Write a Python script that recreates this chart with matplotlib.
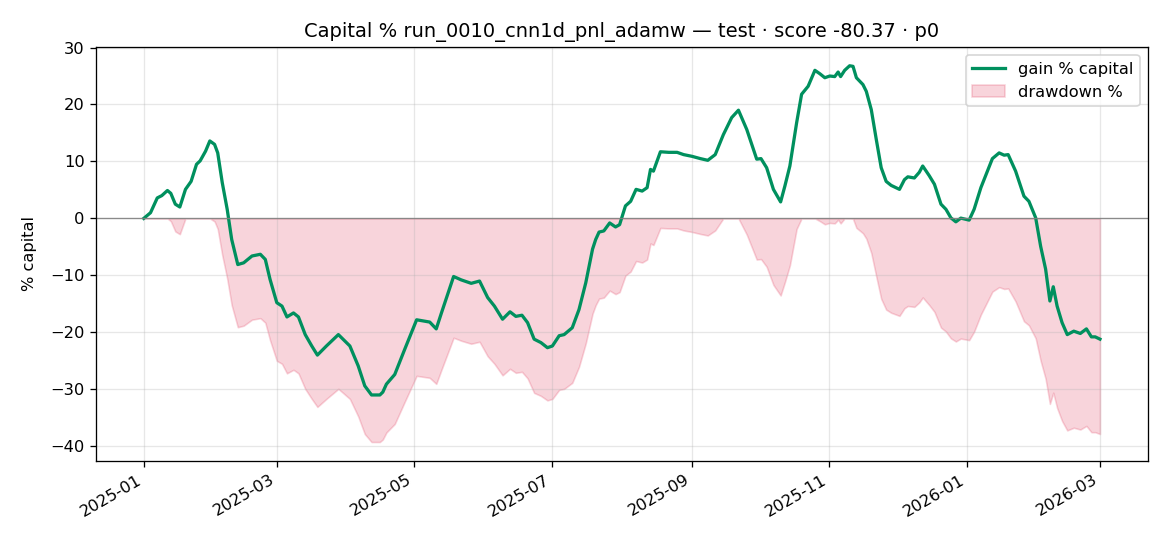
import numpy as np
import pandas as pd
import matplotlib
matplotlib.use("Agg")
import matplotlib.pyplot as plt
import matplotlib.dates as mdates

start_date = "2025-01-01"
days_since_start = [
    0, 3, 6, 8, 10.5, 12, 14, 16, 18.5, 21, 23.4, 25, 27.4, 29.3, 31.4, 32.8, 34.8, 37, 39, 41.7,
    44.3, 48, 51.7, 53.9, 56, 59, 61.3, 63.5, 66.4, 68.6, 71.6, 74.5, 77, 81, 86.3, 91.4, 95.1, 98,
    101, 104.7, 106, 107.6, 111.3, 115.7, 121, 126.8, 129.7, 132, 137.4, 140.8, 145.2, 148.9, 152.5,
    155.5, 159.1, 162.4, 165, 167.7, 170.2, 173.1, 176.1, 179, 181.2, 184.2, 186.4, 190, 193, 196,
    199, 200.4, 201.9, 204, 206.6, 209.2, 211, 213.6, 215.9, 218.3, 221, 223.2, 224.7, 226, 229.1,
    232.8, 236.5, 239.4, 243.1, 246.8, 250.1, 253.4, 257, 260.7, 263.7, 267.4, 271.8, 273.7, 276.2,
    279.2, 282.4, 284.3, 286.5, 289.5, 291.7, 294.6, 297.6, 299.8, 302, 304.2, 306.4, 307.9, 309,
    310.8, 313, 314.5, 316, 318.9, 320.4, 322.6, 324.8, 327, 329.2, 331.4, 335.1, 337.3, 338.8,
    341.7, 343.9, 345.4, 348.3, 350.6, 353.5, 355.7, 357.9, 360.1, 362.3, 366, 368.2, 371.2, 374.1,
    376.3, 379.3, 381.5, 383.3, 386.6, 390.3, 392.5, 395.5, 397.7, 399.9, 401.8, 403.3, 405, 407.2,
    409.5, 412.4, 415.3, 418, 420.2, 421.9, 424,
]
gain_pct = [
    0.0, 1.0, 3.6, 4.0, 4.9, 4.4, 2.5, 2.0, 5.1, 6.5, 9.5, 10.1, 11.8, 13.6, 13.0, 11.5, 6.3, 1.6, -3.7, -8.1,
    -7.8, -6.6, -6.3, -7.2, -10.7, -14.8, -15.4, -17.3, -16.6, -17.3, -20.4, -22.4, -24.0, -22.4, -20.4, -22.4, -25.9, -29.4,
    -31.0, -31.0, -30.5, -29.1, -27.4, -23.0, -17.8, -18.2, -19.4, -16.6, -10.2, -10.8, -11.4, -11.0, -13.9,
    -15.4, -17.7, -16.4, -17.2, -17.0, -18.3, -21.2, -21.8, -22.7, -22.4, -20.6, -20.4, -19.2, -16.0, -11.3,
    -5.4, -3.7, -2.4, -2.2, -0.8, -1.5, -1.1, 2.2, 3.0, 5.1, 4.8, 5.4, 8.6, 8.3, 11.7,
    11.6, 11.6, 11.2, 10.9, 10.5, 10.2, 11.2, 14.7, 17.7, 19.0, 15.6, 10.4, 10.5, 8.9,
    5.1, 2.9, 5.7, 9.2, 16.8, 21.8, 23.2, 26.0, 25.4, 24.7, 25.0, 24.9, 25.7, 24.9,
    26.0, 26.8, 26.7, 24.7, 23.5, 22.3, 19.1, 13.9, 8.9, 6.5, 5.8, 5.1, 6.8, 7.3,
    7.1, 8.1, 9.2, 7.5, 6.0, 2.5, 1.6, 0.1, -0.6, 0.05, -0.3, 1.6, 5.4, 8.3,
    10.5, 11.5, 11.1, 11.2, 8.3, 3.9, 3.0, 0.1, -4.9, -8.9, -14.5, -12.0, -15.4, -18.3,
    -20.4, -19.8, -20.2, -19.4, -20.8, -20.8, -21.2,
]
title = "Capital % run_0010_cnn1d_pnl_adamw \u2014 test \u00b7 score -80.37 \u00b7 p0"

dates = pd.Timestamp(start_date) + pd.to_timedelta(np.array(days_since_start), unit="D")
gain = np.array(gain_pct)
equity = 1 + gain / 100.0
peak = np.maximum.accumulate(equity)
drawdown = (equity / peak - 1) * 100.0

fig, ax = plt.subplots(figsize=(10, 546 / 117), dpi=117)
ax.fill_between(dates, drawdown, 0, color="crimson", alpha=0.18, label="drawdown %")
ax.plot(dates, gain, color="#00905e", lw=2.0, label="gain % capital")
ax.axhline(0, color="gray", lw=0.8, alpha=0.9)
ax.grid(True, alpha=0.3)
ax.set_ylabel("% capital", labelpad=8)
ax.set_title(title, fontsize=12)
ax.xaxis.set_major_locator(mdates.MonthLocator(bymonth=[1, 3, 5, 7, 9, 11]))
ax.xaxis.set_major_formatter(mdates.DateFormatter("%Y-%m"))
handles, labels = ax.get_legend_handles_labels()
ax.legend(handles[::-1], labels[::-1], loc="upper right")
fig.autofmt_xdate()
fig.subplots_adjust(left=0.082, right=0.981, top=0.914, bottom=0.156)
fig.savefig("out.png", dpi=117)
